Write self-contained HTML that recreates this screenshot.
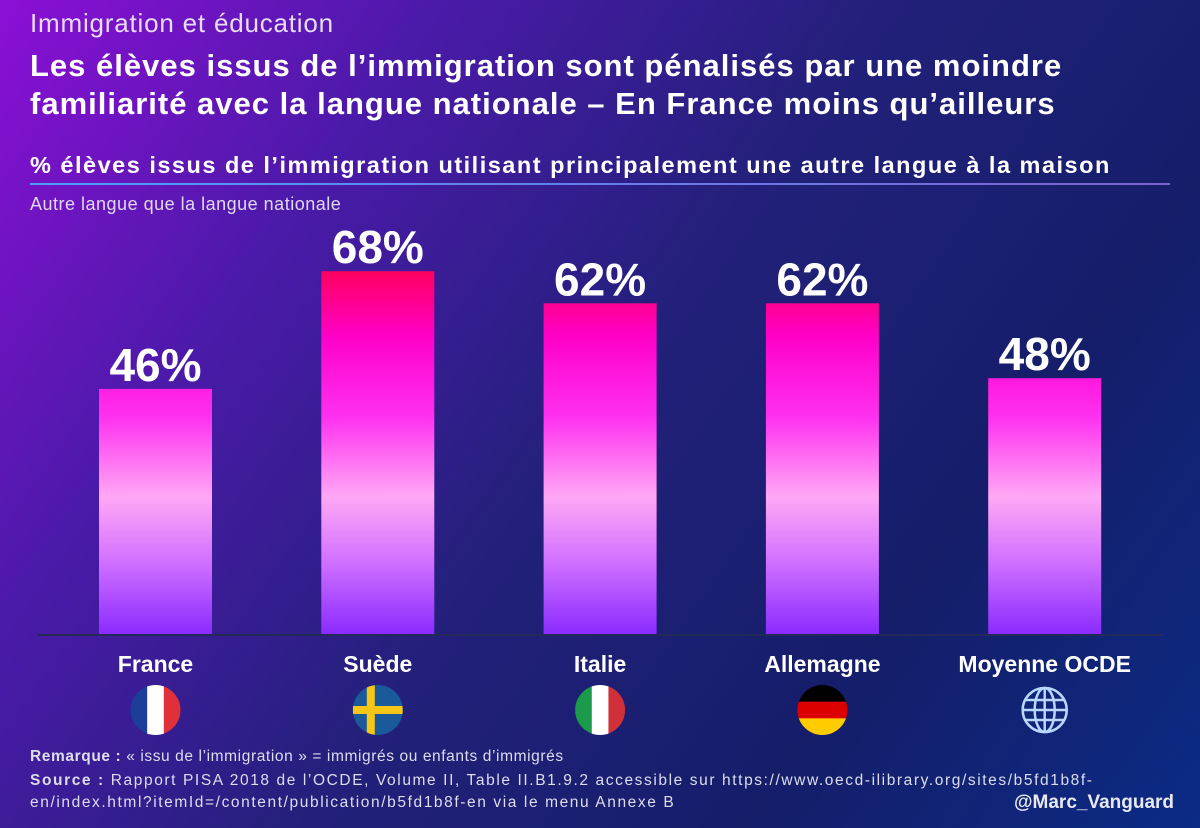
<!DOCTYPE html>
<html><head><meta charset="utf-8"><style>
body{margin:0;width:1200px;height:828px;overflow:hidden;font-family:"Liberation Sans",sans-serif;}
#bg{position:absolute;left:0;top:0;width:1200px;height:828px;background:linear-gradient(125deg,#8c0fd6 0%,#4a1aa8 25%,#22207a 50%,#151e6a 75%,#0b2b85 100%);}
.t{position:absolute;color:#fff;white-space:nowrap}
</style></head><body>
<div id="bg"></div>
<div class="t" style="left:30px;top:8px;font-size:26px;color:#e6dcf5;letter-spacing:0.8px">Immigration et éducation</div>
<div class="t" style="left:30px;top:47px;font-size:31px;font-weight:bold;line-height:38px;letter-spacing:1px">Les élèves issus de l’immigration sont pénalisés par une moindre<br>familiarité avec la langue nationale – En France moins qu’ailleurs</div>
<div class="t" style="left:30px;top:152px;font-size:23.5px;font-weight:bold;letter-spacing:1.5px">% élèves issus de l’immigration utilisant principalement une autre langue à la maison</div>
<div style="position:absolute;left:30px;top:183px;width:1140px;height:2px;background:linear-gradient(90deg,#4aa0ff,#8060d0)"></div>
<div class="t" style="left:30px;top:194px;font-size:18px;color:#e0d8f0;letter-spacing:0.5px">Autre langue que la langue nationale</div>
<svg id="chart" width="1200" height="828" style="position:absolute;left:0;top:0">
<defs><linearGradient id="bg1" gradientUnits="userSpaceOnUse" x1="0" y1="271" x2="0" y2="635">
<stop offset="0" stop-color="#ff0060"/><stop offset="0.18" stop-color="#ff00c8"/><stop offset="0.4" stop-color="#ff30f0"/><stop offset="0.62" stop-color="#ffa8f5"/><stop offset="0.8" stop-color="#d070ff"/><stop offset="1" stop-color="#8a2aff"/></linearGradient></defs>
</svg>
<div class="t" style="left:30px;top:748px;font-size:15.5px;color:#dde;letter-spacing:0.6px">
<b>Remarque :</b> « issu de l’immigration » = immigrés ou enfants d’immigrés</div>
<div class="t" style="left:30px;top:770px;font-size:15.5px;color:#dde;line-height:22px;letter-spacing:1.6px">
<b>Source :</b> Rapport PISA 2018 de l’OCDE, Volume II, Table II.B1.9.2 accessible sur https://www.oecd-ilibrary.org/sites/b5fd1b8f-<br>en/index.html?itemId=/content/publication/b5fd1b8f-en via le menu Annexe B</div>
<div class="t" style="left:1014px;top:792px;font-size:19px;font-weight:bold;color:#e8e8f0">@Marc_Vanguard</div>
<script>
const categories=["France","Suède","Italie","Allemagne","Moyenne OCDE"];
const values=[46,68,62,62,48];
const valueLabels=["46%","68%","62%","62%","48%"];
const svg=document.getElementById('chart');
const NS='http://www.w3.org/2000/svg';
const base=635, pxPer=5.35, x0=99, step=222.3, bw=113;
function xs(i){return x0+i*step;}
function ys(v){return base-v*pxPer;}
function mk(t,a){const e=document.createElementNS(NS,t);for(const k in a)e.setAttribute(k,a[k]);svg.appendChild(e);return e;}
values.forEach((v,i)=>{
 const r=mk('rect',{x:xs(i),y:ys(v),width:bw,height:base-ys(v),fill:'url(#bg1)'});
 
 
 const t=mk('text',{x:xs(i)+bw/2,y:ys(v)-8,'text-anchor':'middle',fill:'#fff','font-size':46,'font-weight':'bold','font-family':'Liberation Sans'});
 t.textContent=valueLabels[i];
 
 
 const c=mk('text',{x:xs(i)+bw/2,y:672,'text-anchor':'middle',fill:'#fff','font-size':23,'font-weight':'bold','font-family':'Liberation Sans'});
 c.textContent=categories[i];
 
 
});
const ax=mk('line',{x1:38,x2:1163,y1:base,y2:base,stroke:'#222a55','stroke-width':2});


const fy=710,fr=25;
function flag(i,stripes,vert){
 const cx=xs(i)+bw/2;
 const g=document.createElementNS(NS,'g');svg.appendChild(g);
 
 
 const id='c'+i;
 const cp=document.createElementNS(NS,'clipPath');cp.setAttribute('id',id);
 const cc=document.createElementNS(NS,'circle');cc.setAttribute('cx',cx);cc.setAttribute('cy',fy);cc.setAttribute('r',fr);cp.appendChild(cc);g.appendChild(cp);
 const n=stripes.length;
 stripes.forEach((col,k)=>{const r=document.createElementNS(NS,'rect');
  if(vert){r.setAttribute('x',cx-fr+k*2*fr/n);r.setAttribute('y',fy-fr);r.setAttribute('width',2*fr/n+0.5);r.setAttribute('height',2*fr);}
  else{r.setAttribute('x',cx-fr);r.setAttribute('y',fy-fr+k*2*fr/n);r.setAttribute('width',2*fr);r.setAttribute('height',2*fr/n+0.5);}
  r.setAttribute('fill',col);r.setAttribute('clip-path','url(#'+id+')');g.appendChild(r);});
 return {g,cx,id};
}
flag(0,['#1a3e9a','#ffffff','#e0303a'],true);
const se=flag(1,['#1a5a9a'],true);
[{x:se.cx-fr,y:fy-4,width:2*fr,height:8},{x:se.cx-11,y:fy-fr,width:8,height:2*fr}].forEach(a=>{const e=mk('rect',Object.assign({fill:'#f5c518','clip-path':'url(#'+se.id+')'},a));se.g.appendChild(e);});
flag(2,['#1a9a4a','#ffffff','#d0303a'],true);
flag(3,['#000000','#dd0000','#ffcc00'],false);
const gx=xs(4)+bw/2;
const gg=document.createElementNS(NS,'g');svg.appendChild(gg);


gg.innerHTML=`<g fill="none" stroke="#b8d8ff" stroke-width="2.5"><circle cx="${gx}" cy="${fy}" r="22"/><ellipse cx="${gx}" cy="${fy}" rx="10" ry="22"/><line x1="${gx}" y1="${fy-22}" x2="${gx}" y2="${fy+22}"/><line x1="${gx-22}" y1="${fy}" x2="${gx+22}" y2="${fy}"/><line x1="${gx-19}" y1="${fy-10}" x2="${gx+19}" y2="${fy-10}"/><line x1="${gx-19}" y1="${fy+10}" x2="${gx+19}" y2="${fy+10}"/></g>`;
</script>
</body></html>
